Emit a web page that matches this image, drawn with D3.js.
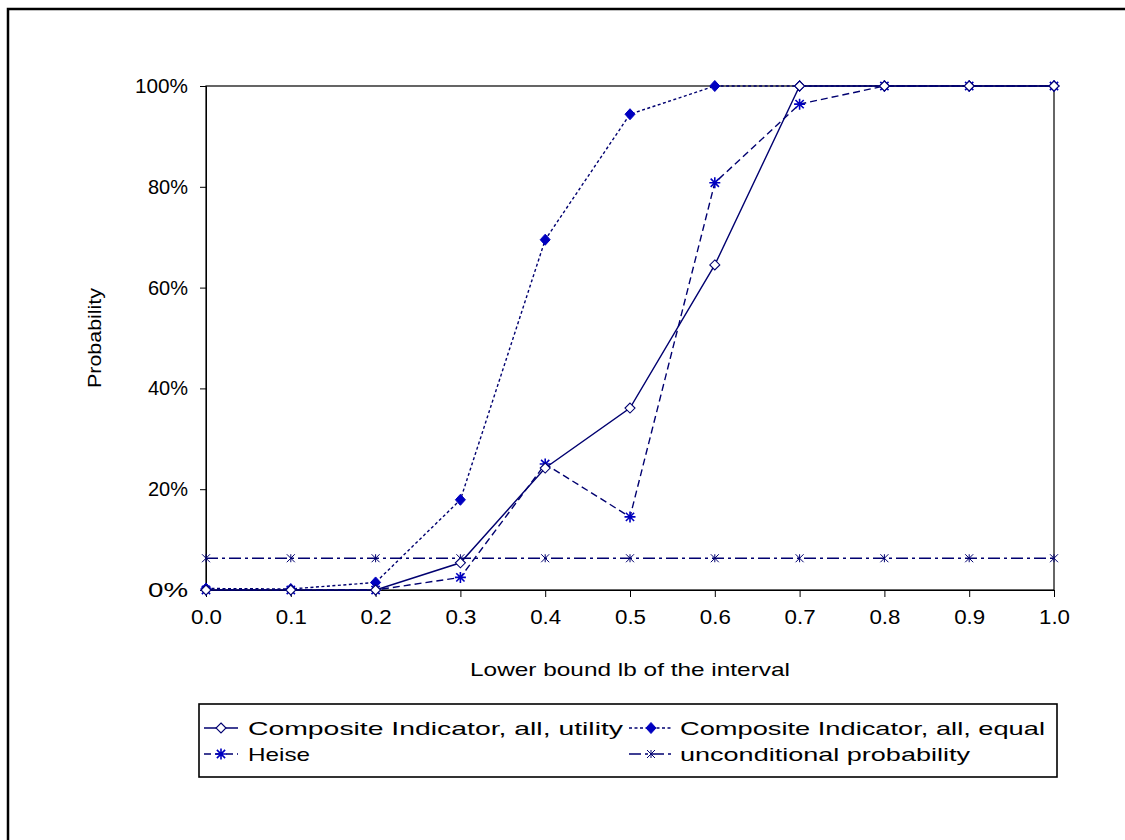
<!DOCTYPE html>
<html><head><meta charset="utf-8">
<script src="https://cdn.jsdelivr.net/npm/d3@7"></script>
<style>body{margin:0;background:#fff}svg{display:block}text{font-family:"Liberation Sans",Arial,sans-serif;fill:#000}</style>
</head><body>
<svg id="c" width="1125" height="840"></svg>
<script>
const xValues = [0.0,0.1,0.2,0.3,0.4,0.5,0.6,0.7,0.8,0.9,1.0];
const utility = [0,0,0,0.054,0.242,0.361,0.645,1,1,1,1];
const equal = [0.003,0.002,0.015,0.179,0.695,0.944,1,1,1,1,1];
const heise = [0,0,0,0.025,0.25,0.145,0.808,0.964,1,1,1];
const unconditional = [0.063,0.063,0.063,0.063,0.063,0.063,0.063,0.063,0.063,0.063,0.063];
const yTicks = [0,0.2,0.4,0.6,0.8,1.0];
const seriesNames = ["Composite Indicator, all, utility","Composite Indicator, all, equal","Heise","unconditional probability"];

const svg = d3.select("#c");
const L=206,R=1054,T=86,B=590;
const x = d3.scaleLinear().domain([0,1]).range([L,R]);
const y = d3.scaleLinear().domain([0,1]).range([B,T]);
const lineCol="#000070", markCol="#0000c0", textCol="#1a1a1a";

// outer border
svg.append("rect").attr("x",8).attr("y",9).attr("width",1130).attr("height",840).attr("fill","none").attr("stroke","#000").attr("stroke-width",2.5);

// plot box
svg.append("rect").attr("x",L).attr("y",T).attr("width",R-L).attr("height",B-T).attr("fill","none").attr("stroke","#000").attr("stroke-width",1.2);

const yAxis = svg.append("g").attr("transform",`translate(${L},0)`)
  .call(d3.axisLeft(y).tickValues(yTicks).tickFormat(d=>Math.round(d*100)+"%").tickSize(6).tickPadding(12));
const xAxis = svg.append("g").attr("transform",`translate(0,${B})`)
  .call(d3.axisBottom(x).tickValues(xValues).tickFormat(d3.format(".1f")).tickSize(7).tickPadding(13));
[yAxis,xAxis].forEach(g=>{g.select(".domain").attr("stroke","#000");g.selectAll("line").attr("stroke","#000");g.selectAll("text").attr("font-size",20).attr("font-family","Liberation Sans, Arial, sans-serif").attr("fill",textCol);});
xAxis.selectAll(".tick text").attr("textLength",31).attr("lengthAdjust","spacingAndGlyphs");
yAxis.selectAll(".tick text").each(function(){const t=d3.select(this);t.attr("textLength",t.text().length===4?53:40).attr("lengthAdjust","spacingAndGlyphs");});

svg.append("text").attr("transform",`translate(101,${(T+B)/2}) rotate(-90)`).attr("text-anchor","middle").attr("font-size",19).attr("fill",textCol)
  .attr("textLength",100).attr("lengthAdjust","spacingAndGlyphs").text("Probability");
svg.append("text").attr("x",(L+R)/2).attr("y",676).attr("text-anchor","middle").attr("font-size",19).attr("fill",textCol)
  .attr("textLength",320).attr("lengthAdjust","spacingAndGlyphs").text("Lower bound lb of the interval");

const series = [
  {name:seriesNames[0], vals:utility, dash:null, marker:"openDiamond", tl:375},
  {name:seriesNames[1], vals:equal, dash:"3,2.5", marker:"filledDiamond", tl:365},
  {name:seriesNames[2], vals:heise, dash:"7,4", marker:"star", tl:62},
  {name:seriesNames[3], vals:unconditional, dash:"12,4,3,4", marker:"cross", tl:290}
];
const line = d3.line().x((d,i)=>x(xValues[i])).y(d=>y(d));

function drawMarker(g,type,cx,cy){
  if(type==="openDiamond"){
    g.append("path").attr("d",`M${cx},${cy-5}L${cx+5},${cy}L${cx},${cy+5}L${cx-5},${cy}Z`).attr("fill","#fff").attr("stroke",lineCol).attr("stroke-width",1.1);
  } else if(type==="filledDiamond"){
    g.append("path").attr("d",`M${cx},${cy-5.5}L${cx+5},${cy}L${cx},${cy+5.5}L${cx-5},${cy}Z`).attr("fill",markCol).attr("stroke",markCol).attr("stroke-width",1);
  } else if(type==="star"){
    const s=5.5;
    g.append("path").attr("d",`M${cx},${cy-s}V${cy+s}M${cx-s},${cy}H${cx+s}M${cx-s*0.75},${cy-s*0.75}L${cx+s*0.75},${cy+s*0.75}M${cx-s*0.75},${cy+s*0.75}L${cx+s*0.75},${cy-s*0.75}`).attr("stroke",markCol).attr("stroke-width",1.6);
  } else if(type==="cross"){
    const s=4;
    g.append("path").attr("d",`M${cx-s},${cy-s}L${cx+s},${cy+s}M${cx-s},${cy+s}L${cx+s},${cy-s}M${cx},${cy-s}V${cy+s}`).attr("stroke",lineCol).attr("stroke-width",1);
  }
}

series.slice().reverse().forEach(s=>{
  const g=svg.append("g");
  g.append("path").datum(s.vals).attr("d",line).attr("fill","none").attr("stroke",lineCol).attr("stroke-width",1.4).attr("stroke-dasharray",s.dash);
  s.vals.forEach((v,i)=>drawMarker(g,s.marker,x(xValues[i]),y(v)));
});

// legend
const lg = svg.append("g");
lg.append("rect").attr("x",199).attr("y",704).attr("width",858).attr("height",73).attr("fill","#fff").attr("stroke","#000").attr("stroke-width",1.6);
const pos=[[204,728],[629,728],[204,754],[629,754]];
series.forEach((s,i)=>{
  const [px,py]=pos[i];
  const w = i%2===0 ? 34 : 44;
  lg.append("line").attr("x1",px).attr("x2",px+w).attr("y1",py).attr("y2",py).attr("stroke",lineCol).attr("stroke-width",1.4).attr("stroke-dasharray",s.dash);
  drawMarker(lg,s.marker,px+w/2,py);
  lg.append("text").attr("x",i%2===0?248:680).attr("y",py+7).attr("font-size",19).attr("fill",textCol)
    .attr("textLength",s.tl).attr("lengthAdjust","spacingAndGlyphs").text(s.name);
});
</script>
</body></html>
